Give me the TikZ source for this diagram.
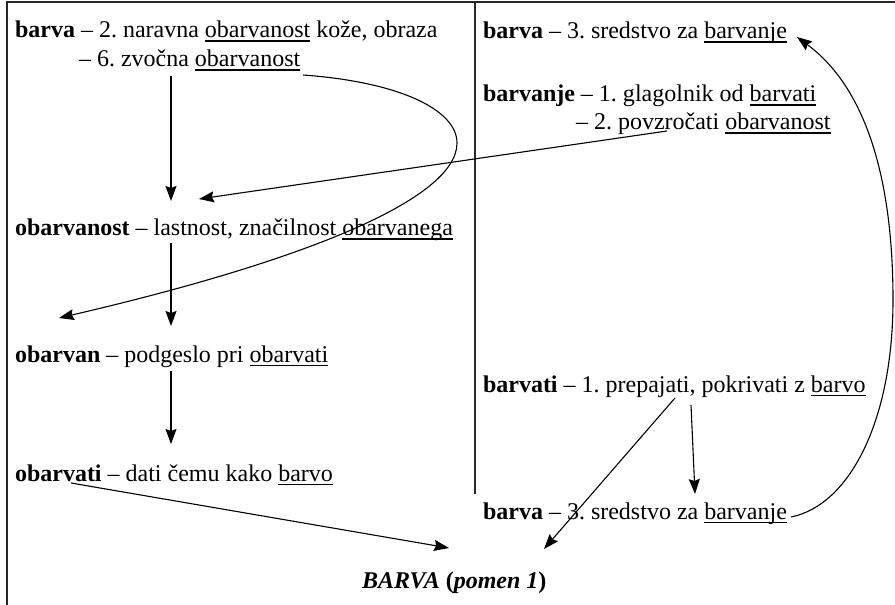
\documentclass[tikz,border=0pt]{standalone}
\usepackage{fontspec}
\setmainfont{Liberation Serif}
\usetikzlibrary{arrows.meta}
\frenchspacing
\newcommand\undr[1]{\setbox0\hbox{#1}\rlap{\rule[-3.6bp]{\wd0}{1.1bp}}\box0\relax}
\tikzset{
  entry/.style={inner sep=0pt, outer sep=0pt, anchor=base west, font=\fontsize{24bp}{29bp}\selectfont},
  frameline/.style={line width=1.6bp, black!85},
  conn/.style={line width=1.1bp, -{Stealth[length=15bp,width=11bp,inset=2bp]}},
}
\begin{document}
\begin{tikzpicture}[x=1bp,y=-1bp]
\useasboundingbox (0,0) rectangle (895,605);
% frame
\draw[frameline] (895,2) -- (7,2) -- (7,605);
\draw[frameline, line width=1.2bp] (475,2) -- (475,494);
% entries
\node[entry] (L1) at (15,38) {\textbf{barva} – 2. naravna \undr{obarvanost} kože, obraza};
\node[entry] (L2) at (79,67) {– 6. zvočna \undr{obarvanost}};
\node[entry] (L3) at (15,236) {\textbf{obarvanost} – lastnost, značilnost \undr{obarvanega}};
\node[entry] (L4) at (15,362) {\textbf{obarvan} – podgeslo pri \undr{obarvati}};
\node[entry] (L5) at (15,481) {\textbf{obarvati} – dati čemu kako \undr{barvo}};
\node[entry] (R1) at (483,39) {\textbf{barva} – 3. sredstvo za \undr{barvanje}};
\node[entry] (R2) at (483,102) {\textbf{barvanje} – 1. glagolnik od \undr{barvati}};
\node[entry] (R3) at (576,130) {– 2. povzročati \undr{obarvanost}};
\node[entry] (R4) at (483,392) {\textbf{barvati} – 1. prepajati, pokrivati z \undr{barvo}};
\node[entry] (R5) at (483,519) {\textbf{barva} – 3. sredstvo za \undr{barvanje}};
\node[entry] (B) at (362,588) {\textbf{\textit{BARVA} (\textit{pomen 1})}};
% connector end points
\coordinate (a1s) at (171,76);
\coordinate (a1e) at (171,201);
\coordinate (a2s) at (171,243);
\coordinate (a2e) at (171,326);
\coordinate (a3s) at (171,371);
\coordinate (a3e) at (171,444);
\coordinate (a4s) at (71,483);
\coordinate (a4e) at (449,548);
\coordinate (a5s) at (667,131);
\coordinate (a5e) at (199,199);
\coordinate (a6s) at (303,75);
\coordinate (a6m) at (457,143);
\coordinate (a6e) at (59,318);
\coordinate (a7s) at (675,398);
\coordinate (a7e) at (544,549);
\coordinate (a8s) at (691,405);
\coordinate (a8e) at (695,494);
\coordinate (a9s) at (791,517);
\coordinate (a9m) at (893,300);
\coordinate (a9e) at (797,37);
% connectors
\draw[conn] (a1s) -- (a1e);
\draw[conn] (a2s) -- (a2e);
\draw[conn] (a3s) -- (a3e);
\draw[conn] (a4s) -- (a4e);
\draw[conn] (a5s) -- (a5e);
\draw[conn] (a6s) .. controls (400,82) and (457,110) .. (a6m) .. controls (457,200) and (300,262) .. (a6e);
\draw[conn] (a7s) -- (a7e);
\draw[conn] (a8s) -- (a8e);
\draw[conn] (a9s) .. controls (850,505) and (893,420) .. (a9m) .. controls (893,170) and (862,85) .. (a9e);
\end{tikzpicture}
\end{document}
